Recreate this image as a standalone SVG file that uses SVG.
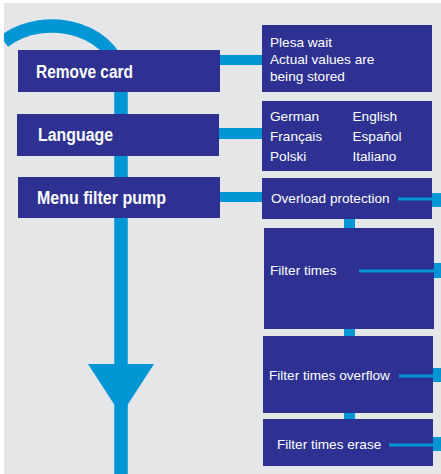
<svg xmlns="http://www.w3.org/2000/svg" width="441" height="474" viewBox="0 0 441 474">
<style>
.box{fill:#2e3192}
.lt{font-family:"Liberation Sans",Arial,sans-serif;font-weight:bold;font-size:17.5px;fill:#ffffff}
.rt{font-family:"Liberation Sans",Arial,sans-serif;font-size:13.6px;fill:#ffffff}
.conn{fill:none;stroke:#0096d6}
.blue{fill:#0096d6}
</style>
<defs>
<clipPath id="bg"><rect x="4" y="3" width="437" height="471"/></clipPath>
</defs>
<rect x="0" y="0" width="441" height="474" fill="#ffffff"/>
<rect x="4" y="3" width="437" height="471" fill="#e5e6e8"/>
<g id="connectors" clip-path="url(#bg)">
<path class="conn" stroke-width="13.5" d="M 4 41.5 A 69 55 0 0 1 121 81 L 121 474"/>
<polygon class="blue" points="88,364 154,364 121,415"/>
<rect class="blue" x="218" y="55" width="46" height="10"/>
<rect class="blue" x="218" y="128" width="46" height="11"/>
<rect class="blue" x="218" y="192" width="46" height="10"/>
<rect class="blue" x="344" y="217" width="11" height="204"/>
<rect class="blue" x="430" y="193" width="11" height="14"/>
<rect class="blue" x="430" y="263" width="11" height="15"/>
<rect class="blue" x="430" y="368" width="11" height="14"/>
<rect class="blue" x="430" y="437" width="11" height="14"/>
</g>
<g id="remove-card"><rect class="box" x="18" y="50" width="202" height="42"/><text class="lt" x="36" y="77.5" textLength="97" lengthAdjust="spacingAndGlyphs">Remove card</text></g>
<g id="language"><rect class="box" x="17" y="114" width="202" height="42"/><text class="lt" x="38" y="140.5" textLength="75" lengthAdjust="spacingAndGlyphs">Language</text></g>
<g id="menu-filter-pump"><rect class="box" x="18" y="177" width="202" height="41"/><text class="lt" x="37" y="203.5" textLength="129" lengthAdjust="spacingAndGlyphs">Menu filter pump</text></g>
<g id="please-wait"><rect class="box" x="262" y="25" width="170" height="67"/>
<text class="rt" x="270" y="46.5">Plesa wait</text>
<text class="rt" x="270" y="64">Actual values are</text>
<text class="rt" x="270" y="81">being stored</text></g>
<g id="languages"><rect class="box" x="262" y="101" width="170" height="70"/>
<text class="rt" x="270" y="121">German</text><text class="rt" x="352.5" y="121">English</text>
<text class="rt" x="270" y="140.5">Français</text><text class="rt" x="352.5" y="140.5">Español</text>
<text class="rt" x="270" y="161">Polski</text><text class="rt" x="352.5" y="161">Italiano</text></g>
<g id="overload-protection"><rect class="box" x="262" y="178" width="170" height="41"/>
<text class="rt" x="271" y="203">Overload protection</text>
<line class="conn" stroke-width="3" x1="398" y1="199" x2="432" y2="199"/></g>
<g id="filter-times"><rect class="box" x="264" y="228" width="170" height="101"/>
<text class="rt" x="270" y="274.5">Filter times</text>
<line class="conn" stroke-width="3" x1="359" y1="271" x2="434" y2="271"/></g>
<g id="filter-times-overflow"><rect class="box" x="263" y="336" width="170" height="77"/>
<text class="rt" x="269" y="379.5">Filter times overflow</text>
<line class="conn" stroke-width="3" x1="399" y1="376" x2="433" y2="376"/></g>
<g id="filter-times-erase"><rect class="box" x="263" y="419" width="170" height="47"/>
<text class="rt" x="277" y="448.5">Filter times erase</text>
<line class="conn" stroke-width="3" x1="389" y1="445" x2="433" y2="445"/></g>
</svg>
